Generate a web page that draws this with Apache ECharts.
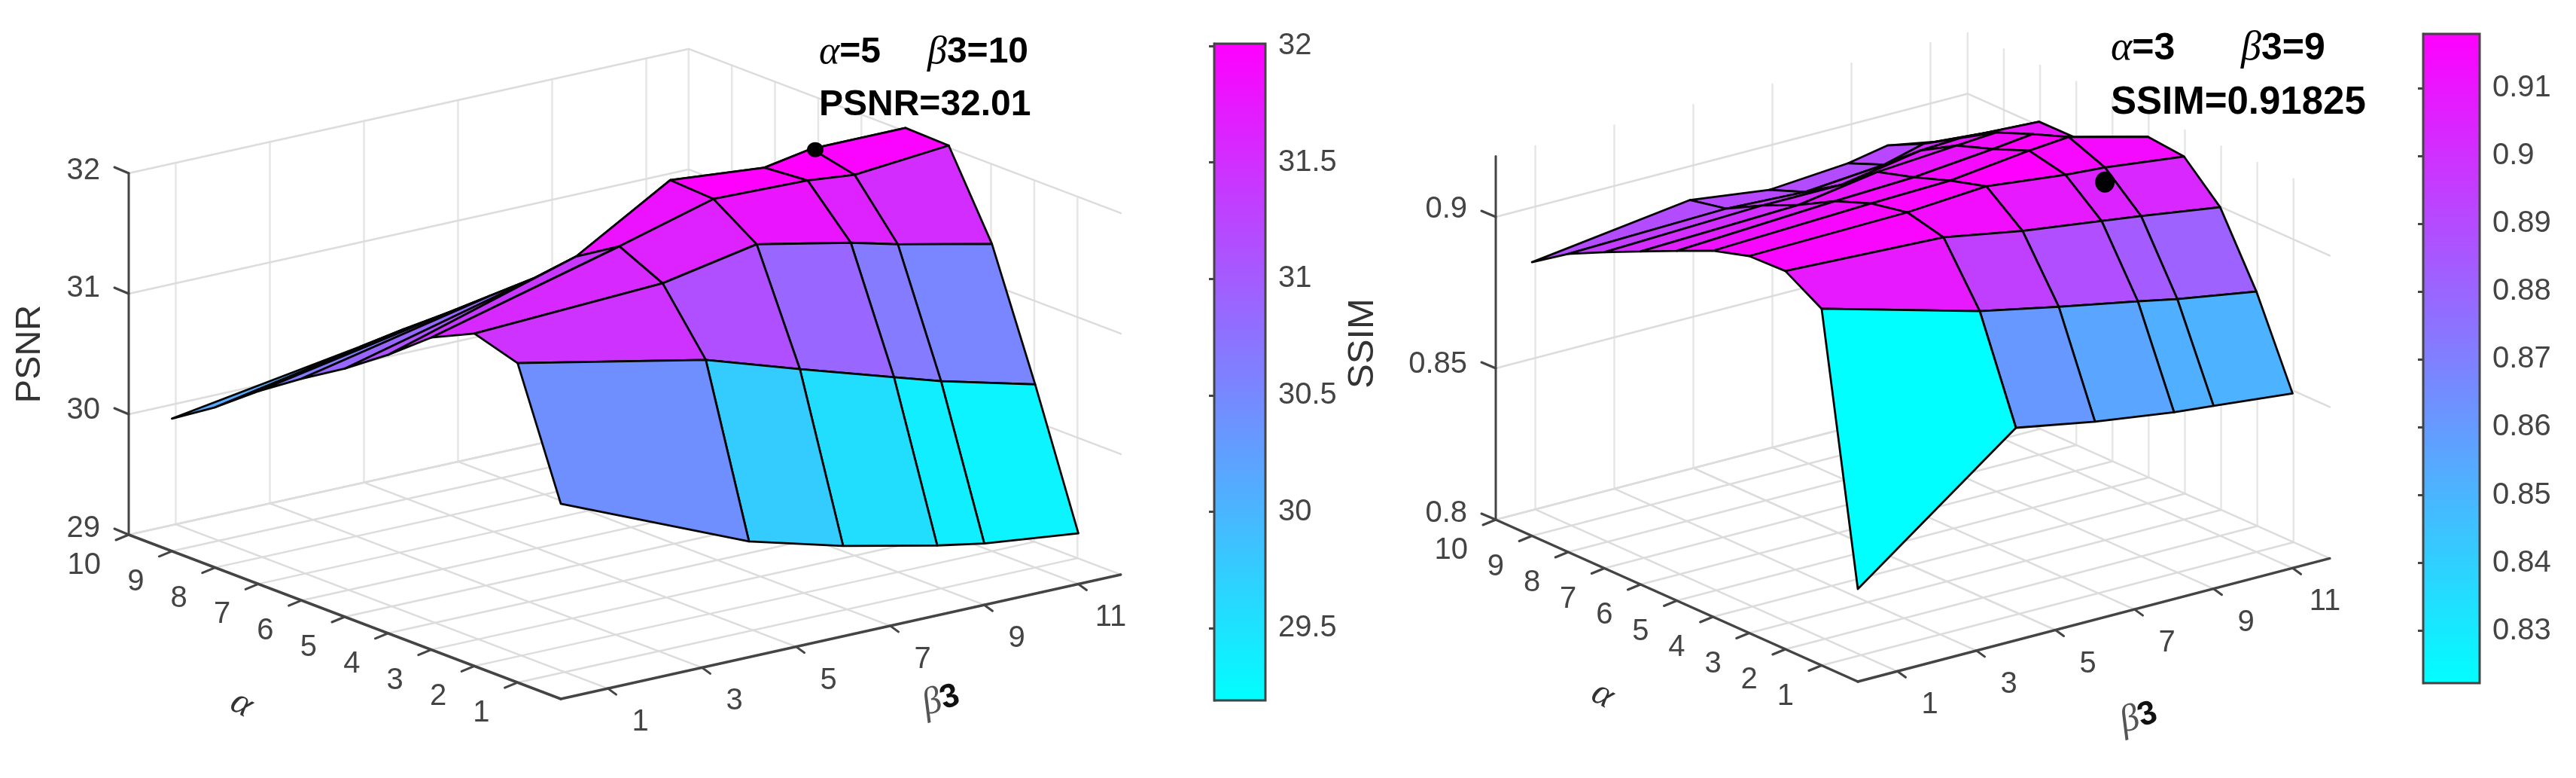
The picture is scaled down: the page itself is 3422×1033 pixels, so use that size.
<!DOCTYPE html>
<html><head><meta charset="utf-8">
<style>html,body{margin:0;padding:0;background:#fff}#c{width:3422px;height:1033px}</style>
<script src="https://cdn.jsdelivr.net/npm/echarts@6/dist/echarts.min.js"></script>
</head><body><div id="c"></div>
<script>
const alphaTicks=[1,2,3,4,5,6,7,8,9,10];
const betaTicks=[1,3,5,7,9,11];
const surfaceRows=[0,1,2,3,4,5,6,7,8,9];
const surfaceCols=[0,4,6,8,9,11];
const psnrTicks=[29,30,31,32];
const ssimTicks=[0.8,0.85,0.9];
const psnrBarTicks=[29.5,30,30.5,31,31.5,32];
const ssimBarTicks=[0.83,0.84,0.85,0.86,0.87,0.88,0.89,0.9,0.91];
const psnr=[
[30.62,29.96,29.75,29.58,29.51,29.42],
[31.65,31.33,31.08,30.84,30.72,30.52],
[31.76,31.83,31.98,31.82,31.72,31.55],
[31.59,32.00,32.22,32.20,32.16,32.23],
[31.31,31.78,32.24,32.17,32.24,32.24],
[31.06,31.46,31.55,31.80,31.80,31.80],
[30.84,31.18,31.20,31.50,31.60,31.65],
[30.60,30.90,30.95,31.20,31.35,31.40],
[30.33,30.63,30.68,30.80,31.00,31.20],
[30.10,30.35,30.42,30.50,30.60,31.00]];
const ssim=[
[0.8306,0.8702,0.8654,0.8617,0.8604,0.8577],
[0.9178,0.9034,0.8980,0.8930,0.8903,0.8860],
[0.9249,0.9224,0.9177,0.9142,0.9124,0.9085],
[0.9245,0.9253,0.9271,0.9241,0.9231,0.9199],
[0.9209,0.9229,0.9236,0.9267,0.9278,0.9211],
[0.9155,0.9183,0.9194,0.9219,0.9234,0.9131],
[0.9100,0.9117,0.9158,0.9177,0.9186,0.9101],
[0.9044,0.9062,0.9062,0.9107,0.9114,0.9100],
[0.8985,0.8998,0.8985,0.9007,0.9042,0.9020],
[0.8904,0.8973,0.8938,0.8958,0.8983,0.8935]];
const psnrPeak=[5,10,32.01];
const ssimPeak=[3,9,0.91825];

const FONT='"Liberation Sans",Arial,sans-serif';
const INK='#444';
const panels=[
 {ox:745,oy:928,ax:57.4,ay:21.8,bx:62.5,by:13.87,zs:160,zMin:29,zTop:32,bMax:11.9,zTicks:psnrTicks,zFmt:v=>String(v),
  z:psnr,peak:psnrPeak,dotR:[11,10],cMin:29.39,cMax:32.2,zOffY:[-8,-5,-7,-3],
  zName:{t:'PSNR',x:40,y:470,s:47},aName:[321,935],bName:[1250,930],
  note:[['{g|α}=5',1088,70,48],['{g|β}3=10',1232,70,48],['PSNR=32.01',1088,140,48]]},
 {ox:2468,oy:905,ax:48.1,ay:21.5,bx:52.5,by:13.7,zs:4020,zMin:0.8,zTop:0.92,bMax:11.94,zTicks:ssimTicks,zFmt:v=>String(v),
  z:ssim,peak:ssimPeak,dotR:[13,14],cMin:0.8315,cMax:0.9272,zOffY:[-8,-5,-10],
  zName:{t:'SSIM',x:1810,y:456,s:49},aName:[2129,923],bName:[2841,953],
  note:[['{g|α}=3',2804,65,50],['{g|β}3=9',2977,65,50],['SSIM=0.91825',2804,137,51]]}
];
function proj(p,a,b,z){return [p.ox-a*p.ax+b*p.bx, p.oy-a*p.ay-b*p.by-(z-p.zMin)*p.zs];}
function cool(t){t=Math.max(0,Math.min(1,t));const h=v=>Math.round(v*255);return `rgb(${h(t)},${h(1-t)},255)`;}

function frameItem(p,api){
 const c=[]; const pt=(a,b,z)=>api.coord(proj(p,a,b,z));
 const seg=(A,B,col,w)=>c.push({type:'line',shape:{x1:A[0],y1:A[1],x2:B[0],y2:B[1]},style:{stroke:col,lineWidth:w,lineCap:'round'}});
 const txt=(t,x,y,o)=>c.push({type:'text',x:x,y:y,rotation:(o&&o.rot)||0,style:Object.assign({text:t,fill:INK,font:`40px ${FONT}`,align:'center',verticalAlign:'middle'},o&&o.st)});
 const GW='#e6e6e6',GF='#dcdcdc';
 betaTicks.forEach(b=>seg(pt(10,b,p.zMin),pt(10,b,p.zTop),GW,2.5));
 alphaTicks.forEach(a=>seg(pt(a,p.bMax,p.zMin),pt(a,p.bMax,p.zTop),GW,2.5));
 p.zTicks.forEach(z=>{seg(pt(10,0,z),pt(10,p.bMax,z),GF,2.5);seg(pt(10,p.bMax,z),pt(0,p.bMax,z),GF,2.5);});
 alphaTicks.forEach(a=>seg(pt(a,0,p.zMin),pt(a,p.bMax,p.zMin),GF,2.5));
 betaTicks.forEach(b=>seg(pt(0,b,p.zMin),pt(10,b,p.zMin),GF,2.5));
 seg(pt(10,0,p.zMin),pt(10,0,p.zTop),INK,3);
 seg(pt(0,0,p.zMin),pt(10,0,p.zMin),INK,3.5);
 seg(pt(0,0,p.zMin),pt(0,p.bMax,p.zMin),INK,3.5);
 p.zTicks.forEach((z,i)=>{const A=pt(10,0,z);seg(A,[A[0]-19,A[1]-8],INK,3);
   txt(p.zFmt(z),A[0]-38,A[1]+p.zOffY[i],{st:{align:'right'}});});
 alphaTicks.forEach(a=>{const A=pt(a,0,p.zMin);seg(A,[A[0]-17,A[1]+7],INK,3);
   txt(String(a),A[0]-37,A[1]+41,{st:{align:'right'}});});
 betaTicks.forEach(b=>{const A=pt(0,b,p.zMin);seg(A,[A[0]+11,A[1]+8],INK,3);
   txt(String(b),A[0]+43,A[1]+45);});
 txt(p.zName.t,p.zName.x,p.zName.y,{rot:Math.PI/2,st:{font:`${p.zName.s}px ${FONT}`,fill:'#333'}});
 txt('α',p.aName[0],p.aName[1],{rot:-0.5,st:{font:'italic 50px "Liberation Serif",serif',fill:'#333'}});
 c.push({type:'text',x:p.bName[0],y:p.bName[1],rotation:0.3,style:{text:'{g|β}{n|3}',align:'center',verticalAlign:'middle',
   rich:{g:{fontFamily:'"Liberation Serif",serif',fontStyle:'italic',fontSize:50,fill:'#555'},n:{fontFamily:'Liberation Sans',fontWeight:'bold',fontSize:44,fill:'#111'}}}});
 p.note.forEach(n=>c.push({type:'text',x:n[1],y:n[2],style:{text:n[0],fill:'#000',font:`bold ${n[3]}px ${FONT}`,align:'left',verticalAlign:'middle',
   rich:{g:{fontFamily:'"Liberation Serif",serif',fontStyle:'italic',fontWeight:'normal',fontSize:n[3]+4,fill:'#000'}}}}));
 return {type:'group',children:c};
}
function surfaceSeries(p){
 const cells=[];
 for(let r=surfaceRows.length-2;r>=0;r--) for(let k=surfaceCols.length-2;k>=0;k--) cells.push([r,k]);
 return {type:'custom',coordinateSystem:'cartesian2d',xAxisIndex:0,yAxisIndex:0,clip:false,silent:true,z:3,data:cells,
  renderItem:(_,api)=>{
   const r=api.value(0),k=api.value(1);
   const v=(i,j)=>api.coord(proj(p,surfaceRows[i],surfaceCols[j],p.z[i][j]));
   return {type:'polygon',shape:{points:[v(r,k),v(r,k+1),v(r+1,k+1),v(r+1,k)]},
     style:{fill:cool((p.z[r][k]-p.cMin)/(p.cMax-p.cMin)),stroke:'#050505',lineWidth:2.8,lineJoin:'round'}};
  }};
}
function frameSeries(p){return {type:'custom',coordinateSystem:'cartesian2d',xAxisIndex:0,yAxisIndex:0,clip:false,silent:true,z:2,data:[[0,0]],renderItem:(_,api)=>frameItem(p,api)};}
function dotSeries(p){return {type:'custom',coordinateSystem:'cartesian2d',xAxisIndex:0,yAxisIndex:0,clip:false,silent:true,z:4,data:[p.peak],
  renderItem:(_,api)=>{const A=api.coord(proj(p,api.value(0),api.value(1),api.value(2)));
   return {type:'ellipse',shape:{cx:A[0],cy:A[1],rx:p.dotR[0],ry:p.dotR[1]},style:{fill:'#000'}};}};}

function barAxis(gridIndex,min,max,ticks,fmt){return {type:'value',gridIndex,position:'right',min,max,scale:true,splitLine:{show:false},
  axisLine:{show:true,lineStyle:{color:INK,width:3}},
  axisTick:{show:true,inside:true,length:7,lineStyle:{color:INK,width:3},customValues:ticks},
  axisLabel:{show:true,color:INK,fontSize:40,fontFamily:'Liberation Sans',margin:17,customValues:ticks,formatter:fmt,showMinLabel:true,showMaxLabel:true}};}
function barX(gridIndex){return {type:'value',gridIndex,min:0,max:1,show:false};}
function barSeries(idx,min,max){return {type:'custom',coordinateSystem:'cartesian2d',xAxisIndex:idx,yAxisIndex:idx,silent:true,z:2,data:[[min,max]],
  renderItem:(_,api)=>{const A=api.coord([0,api.value(1)]),B=api.coord([1,api.value(0)]);
   return {type:'rect',shape:{x:A[0],y:A[1],width:B[0]-A[0],height:B[1]-A[1]},
    style:{stroke:INK,lineWidth:3,fill:new echarts.graphic.LinearGradient(0,1,0,0,[{offset:0,color:'#00ffff'},{offset:1,color:'#ff00ff'}])}};}};}

const psnrRange=[29.19,32.01], ssimRange=[0.8223,0.918];
const option={animation:false,backgroundColor:'#fff',
 grid:[
  {left:0,top:0,width:3422,height:1033,show:false},
  {left:1613,top:58,width:68,height:872},
  {left:3219,top:45,width:75,height:862}],
 xAxis:[{type:'value',min:0,max:3422,show:false,gridIndex:0},barX(1),barX(2)],
 yAxis:[{type:'value',min:0,max:1033,inverse:true,show:false,gridIndex:0},
  barAxis(1,psnrRange[0],psnrRange[1],psnrBarTicks,v=>String(v)),
  barAxis(2,ssimRange[0],ssimRange[1],ssimBarTicks,v=>String(v))],
 series:[frameSeries(panels[0]),surfaceSeries(panels[0]),dotSeries(panels[0]),
  frameSeries(panels[1]),surfaceSeries(panels[1]),dotSeries(panels[1]),
  barSeries(1,psnrRange[0],psnrRange[1]),barSeries(2,ssimRange[0],ssimRange[1])]
};
echarts.init(document.getElementById('c')).setOption(option);
</script></body></html>
